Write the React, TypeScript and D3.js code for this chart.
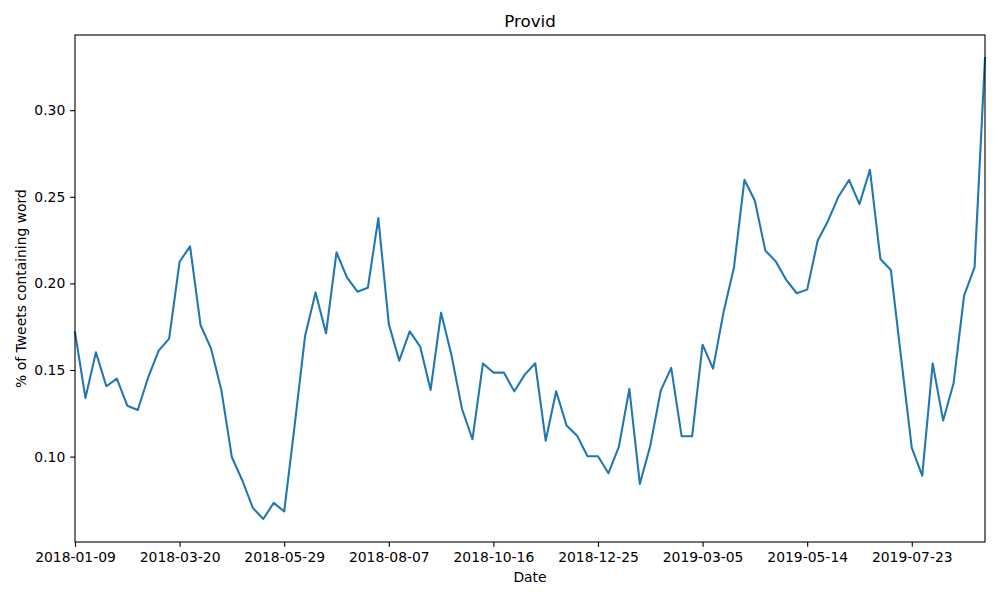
import * as d3 from 'd3'
import { useEffect, useRef } from 'react'

// weekly share of tweets containing the word, starting 2018-01-09
const startDate = '2018-01-09'
const values = [
  0.1717, 0.1339, 0.1602, 0.1406, 0.145, 0.1294, 0.1269, 0.1458, 0.1612, 0.1681,
  0.2125, 0.2214, 0.176, 0.1625, 0.1381, 0.0996, 0.0862, 0.0704, 0.064, 0.0733,
  0.0683, 0.118, 0.1698, 0.1948, 0.1712, 0.2179, 0.2035, 0.1952, 0.1975, 0.2377,
  0.1765, 0.1554, 0.1723, 0.1635, 0.1385, 0.1831, 0.1583, 0.1275, 0.11, 0.1538,
  0.1485, 0.1485, 0.1377, 0.1473, 0.1539, 0.1092, 0.1377, 0.1179, 0.1121, 0.1002,
  0.1002, 0.0904, 0.1058, 0.1391, 0.0842, 0.1063, 0.1381, 0.1512, 0.1117, 0.1117,
  0.1646, 0.1508, 0.1833, 0.2092, 0.2598, 0.2477, 0.2189, 0.2127, 0.202, 0.1943,
  0.1964, 0.2246, 0.2362, 0.2502, 0.2597, 0.2458, 0.2656, 0.2141, 0.2077, 0.156,
  0.105, 0.089, 0.1538, 0.1208, 0.1425, 0.1929, 0.2092, 0.3301,
]
const xTickLabels = [
  '2018-01-09', '2018-03-20', '2018-05-29', '2018-08-07', '2018-10-16',
  '2018-12-25', '2019-03-05', '2019-05-14', '2019-07-23',
]
const yTicks = [0.1, 0.15, 0.2, 0.25, 0.3]

const width = 1000
const height = 600
const margin = { top: 35, right: 15, bottom: 58, left: 75 }
const font = '"DejaVu Sans", sans-serif'

const parse = d3.utcParse('%Y-%m-%d')

export default function App() {
  const ref = useRef<SVGSVGElement | null>(null)

  useEffect(() => {
    if (!ref.current) return
    const svg = d3.select(ref.current)
    svg.selectAll('*').remove()

    const start = parse(startDate)!
    const data = values.map((v, i) => ({ date: d3.utcDay.offset(start, i * 7), value: v }))

    const innerW = width - margin.left - margin.right
    const innerH = height - margin.top - margin.bottom

    const x = d3
      .scaleUtc()
      .domain(d3.extent(data, (d) => d.date) as [Date, Date])
      .range([margin.left, margin.left + innerW])

    const [lo, hi] = d3.extent(values) as [number, number]
    const pad = (hi - lo) * 0.05
    const y = d3
      .scaleLinear()
      .domain([lo - pad, hi + pad])
      .range([margin.top + innerH, margin.top])

    svg.append('rect').attr('width', width).attr('height', height).attr('fill', '#fff')

    const line = d3
      .line<{ date: Date; value: number }>()
      .x((d) => x(d.date))
      .y((d) => y(d.value))

    svg
      .append('path')
      .datum(data)
      .attr('d', line)
      .attr('fill', 'none')
      .attr('stroke', '#1f77b4')
      .attr('stroke-width', 2.08)
      .attr('stroke-linejoin', 'round')
      .attr('stroke-linecap', 'square')

    // x axis
    svg
      .append('g')
      .attr('transform', `translate(0,${margin.top + innerH})`)
      .call(
        d3
          .axisBottom(x)
          .tickValues(xTickLabels.map((s) => parse(s)!))
          .tickFormat((d) => d3.utcFormat('%Y-%m-%d')(d as Date))
          .tickSize(4.86)
          .tickPadding(4.86)
          .tickSizeOuter(0),
      )
      .call((g) => g.select('.domain').remove())
      .call((g) => g.selectAll('line').attr('stroke', '#000').attr('stroke-width', 1.1))
      .call((g) =>
        g.selectAll('text').attr('fill', '#000').style('font-family', font).style('font-size', '13.9px'),
      )

    // y axis
    svg
      .append('g')
      .attr('transform', `translate(${margin.left},0)`)
      .call(
        d3
          .axisLeft(y)
          .tickValues(yTicks)
          .tickFormat((d) => d3.format('.2f')(d as number))
          .tickSize(4.86)
          .tickPadding(4.86)
          .tickSizeOuter(0),
      )
      .call((g) => g.select('.domain').remove())
      .call((g) => g.selectAll('line').attr('stroke', '#000').attr('stroke-width', 1.1))
      .call((g) =>
        g.selectAll('text').attr('fill', '#000').style('font-family', font).style('font-size', '13.9px'),
      )

    // frame
    svg
      .append('rect')
      .attr('x', margin.left)
      .attr('y', margin.top)
      .attr('width', innerW)
      .attr('height', innerH)
      .attr('fill', 'none')
      .attr('stroke', '#000')
      .attr('stroke-width', 1.1)

    svg
      .append('text')
      .attr('x', margin.left + innerW / 2)
      .attr('y', 27)
      .attr('text-anchor', 'middle')
      .style('font-family', font)
      .style('font-size', '16.7px')
      .text('Provid')

    svg
      .append('text')
      .attr('x', margin.left + innerW / 2)
      .attr('y', 582)
      .attr('text-anchor', 'middle')
      .style('font-family', font)
      .style('font-size', '13.9px')
      .text('Date')

    svg
      .append('text')
      .attr('transform', `translate(26,${margin.top + innerH / 2}) rotate(-90)`)
      .attr('text-anchor', 'middle')
      .style('font-family', font)
      .style('font-size', '13.9px')
      .text('% of Tweets containing word')
  }, [])

  return (
    <svg
      ref={ref}
      width={width}
      height={height}
      style={{ position: 'absolute', left: 0, top: 0, display: 'block' }}
    />
  )
}
